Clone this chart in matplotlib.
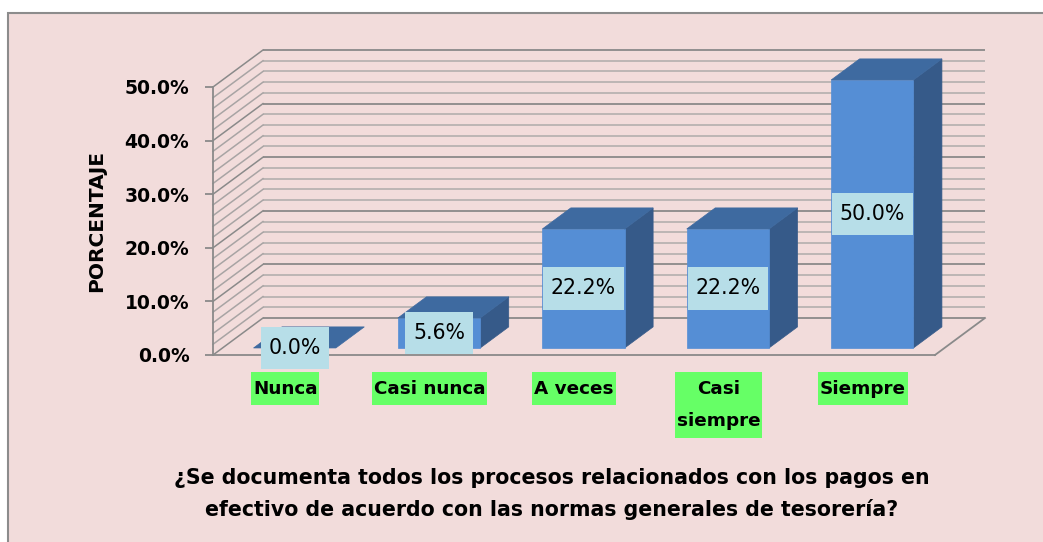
import numpy as np
import matplotlib.pyplot as plt
from matplotlib.patches import Polygon, Rectangle
from matplotlib.path import Path
from matplotlib.ticker import FuncFormatter

# Datos de la encuesta
categorias = ['Nunca', 'Casi nunca', 'A veces', 'Casi\nsiempre', 'Siempre']
porcentajes = [0.0, 5.6, 22.2, 22.2, 50.0]
y_ticks = [0, 10, 20, 30, 40, 50]
titulo = ('¿Se documenta todos los procesos relacionados con los pagos en\n'
          'efectivo de acuerdo con las normas generales de tesorería?')

# Colores estilo Excel
PINK = '#F2DCDB'
FRONT = '#558ED5'
TOP = '#3E6AA0'
SIDE = '#365A89'
LABEL_BG = '#B7DEE8'
GREEN = '#66FF66'
MAJOR = '#8A8A8A'
MINOR = '#B8B2B2'

# Perspectiva 3D (desplazamiento hacia el fondo en unidades de datos)
DX, DY = 0.346, 6.9
D0, D1 = 0.19, 0.76   # profundidad frontal / trasera de las barras
W = 0.57              # ancho de barra
XMIN, XMAX = -0.5, 4.5


def caja(padx, pady):
    # caja rectangular con relleno horizontal y vertical distintos
    def estilo(x0, y0, width, height, mutation_size):
        dx, dy = padx * mutation_size, pady * mutation_size
        xa, ya = x0 - dx, y0 - dy
        xb, yb = x0 + width + dx, y0 + height + dy
        return Path([(xa, ya), (xb, ya), (xb, yb), (xa, yb), (xa, ya)], closed=True)
    return estilo


fig = plt.figure(figsize=(10.43, 5.42), dpi=100, facecolor='white')
fig.patches.append(Rectangle((8 / 1043, -0.05), 1.0, 1.05 - 12.5 / 542,
                             transform=fig.transFigure, facecolor=PINK,
                             edgecolor='#8C8C8C', linewidth=1.5, zorder=-1))

ax = fig.add_axes([213 / 1043, 187 / 542, 722 / 1043, 268 / 542])
ax.set_facecolor('none')
ax.set_xlim(XMIN, XMAX)
ax.set_ylim(0, 50)

# Pared del fondo y pared lateral con lineas de cuadricula
for y in np.arange(0, 50.1, 2):
    major = abs(y % 10) < 1e-6
    c = MAJOR if major else MINOR
    ax.plot([XMIN + DX, XMAX + DX], [y + DY, y + DY], color=c, lw=1.3,
            clip_on=False, zorder=1, solid_capstyle='butt')
    ax.plot([XMIN, XMIN + DX], [y, y + DY], color=MAJOR if major else '#A8A4A4',
            lw=1.1, clip_on=False, zorder=1)
# borde derecho del piso
ax.plot([XMAX, XMAX + DX], [0, DY], color=MAJOR, lw=1.3, clip_on=False, zorder=1)

# Barras 3D
s = D1 - D0
for i, v in enumerate(porcentajes):
    x0 = i + D0 * DX - W / 2
    x1 = x0 + W
    yb = D0 * DY
    if v > 0:
        ax.add_patch(Polygon([(x1, yb), (x1 + s * DX, yb + s * DY),
                              (x1 + s * DX, yb + v + s * DY), (x1, yb + v)],
                             closed=True, facecolor=SIDE, edgecolor=SIDE,
                             lw=0.5, clip_on=False, zorder=3))
        ax.add_patch(Rectangle((x0, yb), W, v, facecolor=FRONT, edgecolor=FRONT,
                               lw=0.5, clip_on=False, zorder=3))
    ax.add_patch(Polygon([(x0, yb + v), (x1, yb + v),
                          (x1 + s * DX, yb + v + s * DY), (x0 + s * DX, yb + v + s * DY)],
                         closed=True, facecolor=TOP, edgecolor=TOP, lw=0.5,
                         clip_on=False, zorder=3))
    ax.text(i + D0 * DX, yb + v / 2, f'{v:.1f}%', ha='center', va='center',
            fontsize=14.8, color='black', zorder=5,
            bbox=dict(boxstyle=caja(0.38, 0.55), facecolor=LABEL_BG, edgecolor='none'))

# Ejes
for side in ['top', 'right']:
    ax.spines[side].set_visible(False)
ax.spines['left'].set_color(MAJOR)
ax.spines['left'].set_linewidth(1.3)
ax.spines['bottom'].set_color(MAJOR)
ax.spines['bottom'].set_linewidth(1.3)
ax.spines['left'].set_zorder(2)
ax.spines['bottom'].set_zorder(2)

ax.set_yticks(y_ticks)
ax.yaxis.set_major_formatter(FuncFormatter(lambda v, p: f'{v:.1f}%'))
ax.tick_params(axis='y', direction='out', length=6, width=1.3, color=MAJOR,
               labelsize=13.5, pad=11)
for lbl in ax.get_yticklabels():
    lbl.set_fontweight('bold')

ax.set_xticks(range(len(categorias)))
ax.set_xticklabels(categorias)
ax.tick_params(axis='x', length=0, labelsize=13.2, pad=17.8)
for lbl in ax.get_xticklabels():
    lbl.set_fontweight('bold')
    lbl.set_multialignment('center')
    lbl.set_linespacing(2.05)
    lbl.set_bbox(dict(boxstyle=caja(0.1, 0.4), facecolor=GREEN, edgecolor='none'))

ax.set_ylabel('PORCENTAJE', fontsize=14.5, fontweight='bold')
ax.yaxis.set_label_coords(-0.148, 0.5)

fig.text(552 / 1043, 1 - 494 / 542, titulo, ha='center', va='center',
         fontsize=14.8, fontweight='bold', linespacing=1.65)

plt.savefig('out.png', dpi=100, facecolor=fig.get_facecolor())
